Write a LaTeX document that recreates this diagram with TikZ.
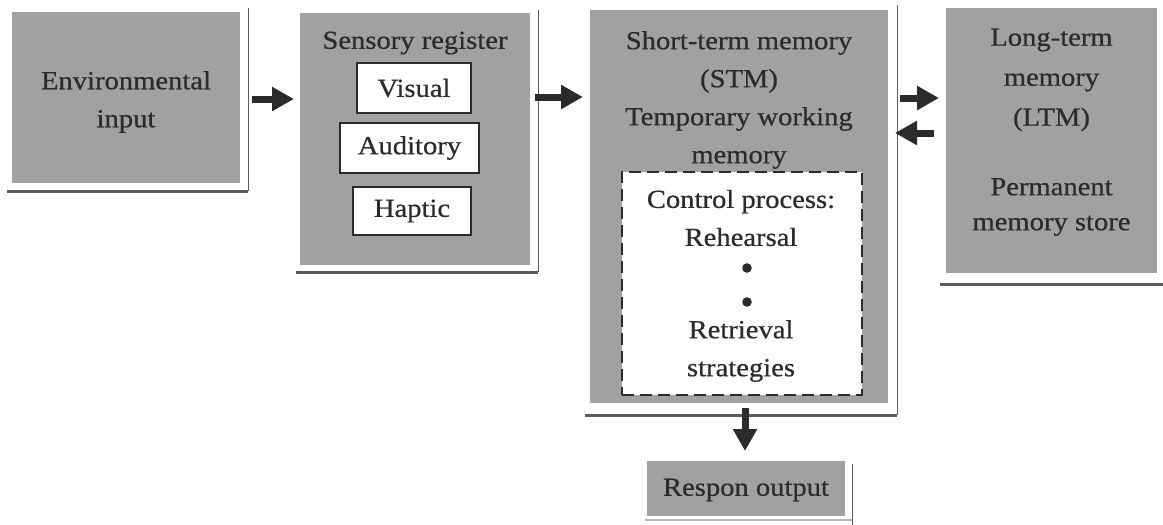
\documentclass[tikz,border=0pt]{standalone}
\usepackage{fontspec}
\setmainfont{Liberation Serif}[FakeStretch=1.1, FakeBold=0.6]
\usetikzlibrary{arrows.meta,calc}

\definecolor{boxgray}{gray}{0.63}
\definecolor{inkgray}{gray}{0.17}
\definecolor{rulegray}{gray}{0.36}

\tikzset{
  txt/.style={font=\fontsize{26}{38}\selectfont, text=inkgray, align=center},
  graybox/.style={fill=boxgray, draw=none, inner sep=0pt},
  whitebox/.style={fill=white, draw=inkgray, line width=1.8pt, inner sep=0pt, txt},
  ctrlbox/.style={fill=white, draw=inkgray, line width=2.6pt,
    dash pattern=on 12pt off 6pt, inner sep=0pt},
  frameside/.style={draw=rulegray, line width=1.4pt},
  framebase/.style={draw=rulegray, line width=3pt},
  flow/.style={draw=inkgray, line width=7pt,
    -{Triangle[length=22pt,width=23pt]}, shorten >=0pt},
}

% right edge rule and heavier base rule set off from a box
\newcommand\storeframe[5]{% node, right gap, top gap, bottom gap, left overhang
  \draw[frameside] ($(#1.north east)+(#2,-#3)$) -- ($(#1.south east)+(#2,#4)$);
  \draw[framebase] ($(#1.south west)+(-#5,#4)$) -- ($(#1.south east)+(#2,#4)$);
}

\begin{document}
\begin{tikzpicture}[x=1pt,y=-1pt]
\useasboundingbox (0,0) rectangle (1163,525);
\fill[white] (0,0) rectangle (1163,525);

% main stores
\node[graybox, minimum width=228pt, minimum height=171pt] (env) at (126,97.5) {};
\node[graybox, minimum width=230pt, minimum height=252pt] (sens) at (415,139) {};
\node[graybox, minimum width=298pt, minimum height=393pt] (stm) at (739,206.5) {};
\node[graybox, minimum width=211pt, minimum height=265pt] (ltm) at (1051.5,140.5) {};
\node[graybox, minimum width=198pt, minimum height=55pt] (resp) at (746,488.5) {};

\storeframe{env}{8}{4}{8}{5}
\storeframe{sens}{8}{3}{7}{4}
\storeframe{stm}{9}{5}{12}{5}
\storeframe{ltm}{9}{2}{11}{6}
\draw[frameside] ($(resp.north east)+(7,3)$) -- ($(resp.south east)+(7,9)$);
\draw[draw=rulegray!45, line width=1.5pt] ($(resp.south west)+(-2,4)$) -- ($(resp.south east)+(7,4)$);

% labels of the outer stores
\node[txt] (envt) at (126,102) {Environmental\\input};
\node[txt] (respt) at (746,490) {Respon output};

% sensory register
\node[txt] (senst) at (415,43) {Sensory register};
\node[whitebox, minimum width=114pt, minimum height=50pt] (vis) at (414,88) {Visual};
\node[whitebox, minimum width=139pt, minimum height=50pt] (aud) at (409.5,148) {Auditory};
\node[whitebox, minimum width=118pt, minimum height=48pt] (hap) at (412,211) {Haptic};

% short-term memory
\node[txt] (stmt) at (739,100) {Short-term memory\\(STM)\\Temporary working\\memory};
\node[ctrlbox, minimum width=240pt, minimum height=223pt] (ctrl) at (742,283.5) {};
\node[txt] (ctrlt) at (741,218) {Control process:\\Rehearsal};
\fill[inkgray] (747,268) circle (4.8pt) coordinate (dota);
\fill[inkgray] (747,302) circle (4.8pt) coordinate (dotb);
\node[txt] (retr) at (741,351) {Retrieval\\strategies};

% long-term memory
\node[txt, font=\fontsize{26}{40}\selectfont] (ltmt) at (1051.5,80) {Long-term\\memory\\(LTM)};
\node[txt, font=\fontsize{26}{35}\selectfont] (ltmp) at (1051.5,207) {Permanent\\memory store};

% flow arrows between the stores
\coordinate (a1s) at (252,99);   \coordinate (a1e) at (294,99);
\coordinate (a2s) at (535,97);   \coordinate (a2e) at (583,97);
\coordinate (a3s) at (900,98);   \coordinate (a3e) at (939,98);
\coordinate (a4s) at (934,133);  \coordinate (a4e) at (895,133);
\coordinate (a5s) at (745,408);  \coordinate (a5e) at (745,451);
\draw[flow] (a1s) -- (a1e);
\draw[flow] (a2s) -- (a2e);
\draw[flow] (a3s) -- (a3e);
\draw[flow] (a4s) -- (a4e);
\draw[flow] (a5s) -- (a5e);
\end{tikzpicture}
\end{document}
